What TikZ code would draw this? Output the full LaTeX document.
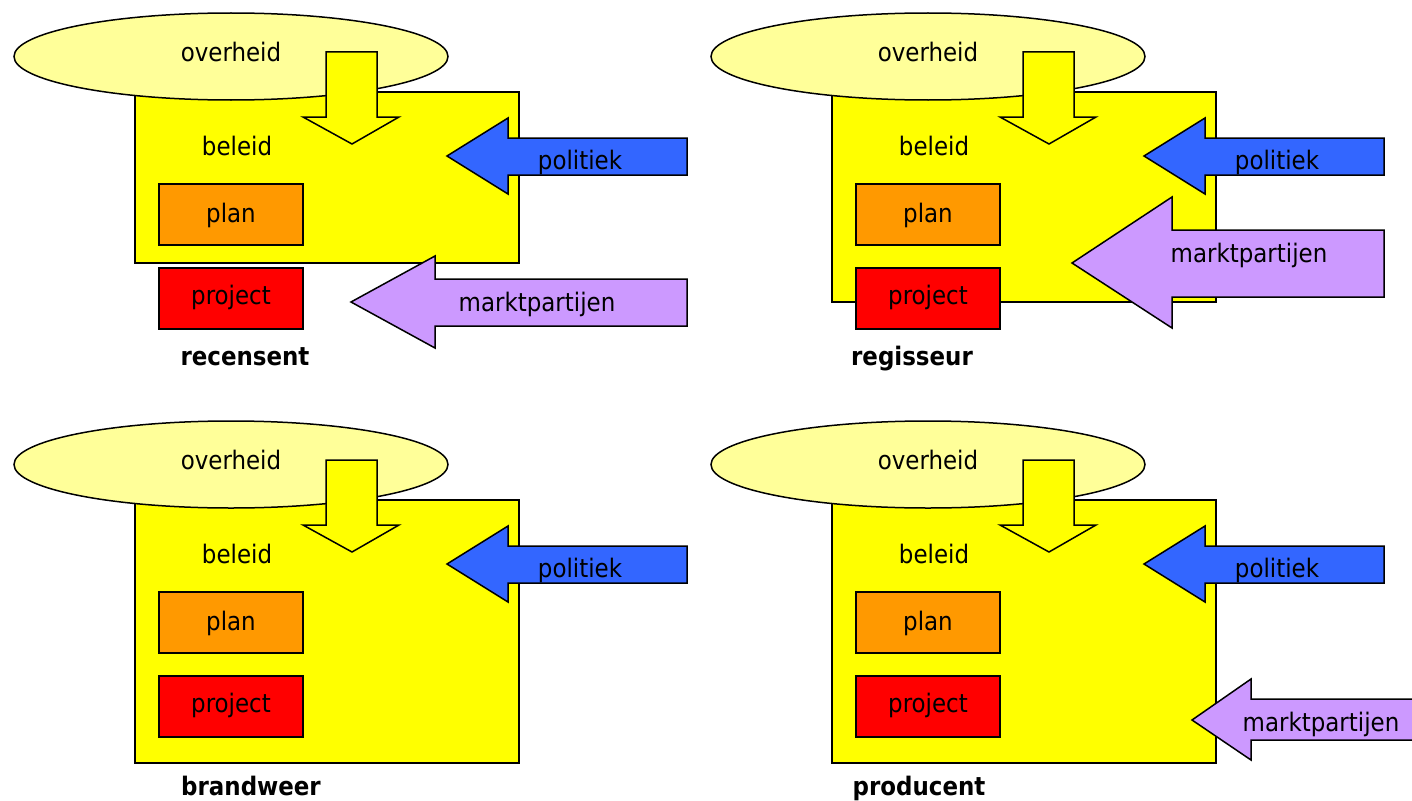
\documentclass[tikz,border=0pt]{standalone}
\usepackage{fontspec}
\setmainfont{DejaVu Sans Condensed}
\definecolor{govyellow}{HTML}{FFFF99}
\definecolor{policyyellow}{HTML}{FFFF00}
\definecolor{planorange}{HTML}{FF9900}
\definecolor{projectred}{HTML}{FF0000}
\definecolor{politicsblue}{HTML}{3366FF}
\definecolor{marketpurple}{HTML}{CC99FF}
\tikzset{
  outline/.style={draw=black, line width=1.5pt, line join=miter},
  policybox/.style={outline, fill=policyyellow},
  govshape/.style={outline, fill=govyellow},
  downarrow/.style={outline, fill=policyyellow},
  planbox/.style={outline, fill=planorange},
  projectbox/.style={outline, fill=projectred},
  politicsarrow/.style={outline, fill=politicsblue},
  marketarrow/.style={outline, fill=marketpurple},
  lbl/.style={inner sep=0pt, anchor=base, font=\fontsize{25.5}{30}\selectfont},
  rolelbl/.style={lbl, font=\fontsize{25.5}{30}\selectfont\bfseries},
}
% shared top part of every panel: government ellipse, policy arrow, plan box
\newcommand{\govpart}[1]{%
  \draw[govshape] (231,56.5) ellipse [x radius=217, y radius=43.5];
  \node[lbl] (#1-gov) at (231,61) {overheid};
  \draw[downarrow] (326,52) -- (377,52) -- (377,117) -- (399,117) -- (352,144) -- (303,117) -- (326,117) -- cycle;
  \node[lbl] (#1-pol) at (237,155) {beleid};
  \draw[planbox] (159,184) rectangle (303,245);
  \node[lbl] (#1-plan) at (231,222) {plan};
  \draw[projectbox] (159,268) rectangle (303,329);
  \node[lbl] (#1-proj) at (231,304) {project};
  \draw[politicsarrow] (447,156) -- (508,118) -- (508,138) -- (687,138) -- (687,175) -- (508,175) -- (508,194) -- cycle;
  \node[lbl] (#1-politics) at (580,169) {politiek};
}
\begin{document}
\begin{tikzpicture}[x=1pt, y=-1pt]
  \useasboundingbox (0,0) rectangle (1412,800);
  \clip (0,0) rectangle (1412,800);

  % recensent
  \begin{scope}
    \draw[policybox] (135,92) rectangle (519,263);
    \govpart{a}
    \draw[marketarrow] (351,302) -- (435,256) -- (435,279) -- (687,279) -- (687,326) -- (435,326) -- (435,348) -- cycle;
    \node[lbl] (a-market) at (537,311) {marktpartijen};
    \node[rolelbl] (a-role) at (245,365) {recensent};
  \end{scope}

  % regisseur
  \begin{scope}[shift={(697,0)}]
    \draw[policybox] (135,92) rectangle (519,302);
    \govpart{b}
    \draw[marketarrow] (375,263) -- (475,197) -- (475,230) -- (687,230) -- (687,297) -- (475,297) -- (475,328) -- cycle;
    \node[lbl] (b-market) at (552,262) {marktpartijen};
    \node[rolelbl] (b-role) at (215,365) {regisseur};
  \end{scope}

  % brandweer
  \begin{scope}[shift={(0,408)}]
    \draw[policybox] (135,92) rectangle (519,355);
    \govpart{c}
    \node[rolelbl] (c-role) at (251,387) {brandweer};
  \end{scope}

  % producent
  \begin{scope}[shift={(697,408)}]
    \draw[policybox] (135,92) rectangle (519,355);
    \govpart{d}
    \draw[marketarrow] (495,312) -- (554,271) -- (554,291) -- (730,291) -- (730,332) -- (554,332) -- (554,352) -- cycle;
    \node[lbl] (d-market) at (624,323) {marktpartijen};
    \node[rolelbl] (d-role) at (222,387) {producent};
  \end{scope}
\end{tikzpicture}
\end{document}
